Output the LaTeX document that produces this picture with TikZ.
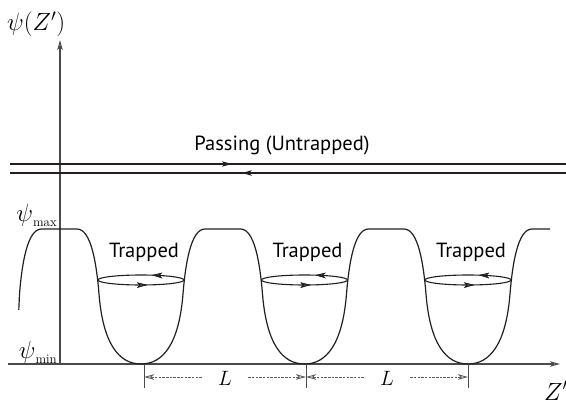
\documentclass[tikz,border=0pt]{standalone}
\usepackage{fontspec}
\setsansfont{PT Sans}
\usepackage{tikz}
\usetikzlibrary{arrows.meta,positioning,decorations.markings,calc}
\definecolor{ink}{HTML}{231F20}
\definecolor{axisgray}{HTML}{4A4A4A}
\definecolor{dimgray}{HTML}{5C5C5C}
\tikzset{
  openhead/.tip={Stealth[open, length=10pt, width=5.5pt, inset=2.5pt]},
  axisline/.style={draw=axisgray, line width=1.1pt, -openhead},
  wavecurve/.style={draw=ink, line width=1.2pt, line join=round},
  passline/.style={draw=ink, line width=1.1pt},
  orbit/.style={draw=ink, line width=1.1pt},
  tickline/.style={draw=axisgray, line width=1pt},
  dimarrow/.style={draw=dimgray, line width=0.9pt, dash pattern=on 2.5pt off 1.2pt, -openhead},
  fwdmark/.style={postaction={decorate}, decoration={markings,
    mark=at position #1 with {\arrow[ink, line width=0.8pt]{openhead}}}},
  backmark/.style={postaction={decorate}, decoration={markings,
    mark=at position #1 with {\arrowreversed[ink, line width=0.8pt]{openhead}}}},
  textlabel/.style={font=\sffamily\fontsize{20.5}{24}\selectfont, inner sep=0pt},
  mathlabel/.style={font=\fontsize{24}{28}\selectfont, inner sep=0pt},
  dimlabel/.style={font=\fontsize{22}{26}\selectfont, inner xsep=16pt, inner ysep=0pt},
}

\begin{document}
\begin{tikzpicture}[x=1pt, y=-1pt]
  \useasboundingbox (0,0) rectangle (566,404);

  % axes
  \coordinate (xstart) at (8,364);
  \coordinate (xend) at (560,364);
  \coordinate (origin) at (60,364);
  \coordinate (yend) at (60,40);
  \draw[axisline] (xstart) -- (xend);
  \draw[axisline] (origin) -- (yend);

  \node[mathlabel, anchor=base west] (psiz) at (7,31) {$\psi(Z')$};
  \node[mathlabel, anchor=base west] (zlab) at (544,400) {$Z'$};
  \node[mathlabel, anchor=base east] (psimax) at (57,222)
    {\fontsize{26}{28}\selectfont$\psi$\raisebox{-5pt}{\fontsize{13}{14}\selectfont max}};
  \node[mathlabel, anchor=base east] (psimin) at (57,358)
    {\fontsize{26}{28}\selectfont$\psi$\raisebox{-5pt}{\fontsize{13}{14}\selectfont min}};

  % passing orbits
  \coordinate (pa1) at (10,164);
  \coordinate (pb1) at (566,164);
  \coordinate (pa2) at (566,173);
  \coordinate (pb2) at (10,173);
  \draw[passline, fwdmark=0.399] (pa1) -- (pb1);
  \draw[passline, fwdmark=0.583] (pa2) -- (pb2);
  \node[textlabel, anchor=base] (passing) at (282,151) {Passing (Untrapped)};

  % potential
  \draw[wavecurve] (18.8,310) -- (19.5,294) .. controls (22,263) and (27.5,229) .. (41.5,229)
    foreach \c in {141,304.5,468}{
      -- ({\c-64},229) .. controls ({\c-50},229) and ({\c-44.5},263) .. ({\c-42},294)
      .. controls ({\c-38},344) and ({\c-22},364) .. (\c,364)
      .. controls ({\c+22},364) and ({\c+38},344) .. ({\c+42},294)
      .. controls ({\c+44.5},263) and ({\c+50},229) .. ({\c+64},229)
    } -- (550,229);

  % trapped orbits
  \foreach \c/\n in {141/1,304.5/2,468/3}{
    \draw[orbit, backmark=0.216, backmark=0.813] (\c,280) ellipse [x radius=43, y radius=5];
    \node[textlabel, anchor=base] (trap\n) at ({\c+3},257) {Trapped};
  }

  % period markers
  \foreach \x/\n in {144/1,306/2,468/3}{
    \coordinate (ta\n) at (\x,364);
    \coordinate (tb\n) at (\x,388);
    \coordinate (d\n) at (\x,377);
    \draw[tickline] (ta\n) -- (tb\n);
  }
  \node[dimlabel] (L1) at (225,378) {$L$};
  \node[dimlabel] (L2) at (387,378) {$L$};
  \draw[dimarrow] (L1.west |- d1) -- (d1);
  \draw[dimarrow] (L1.east |- d2) -- (d2);
  \draw[dimarrow] (L2.west |- d2) -- (d2);
  \draw[dimarrow] (L2.east |- d3) -- (d3);
\end{tikzpicture}
\end{document}
